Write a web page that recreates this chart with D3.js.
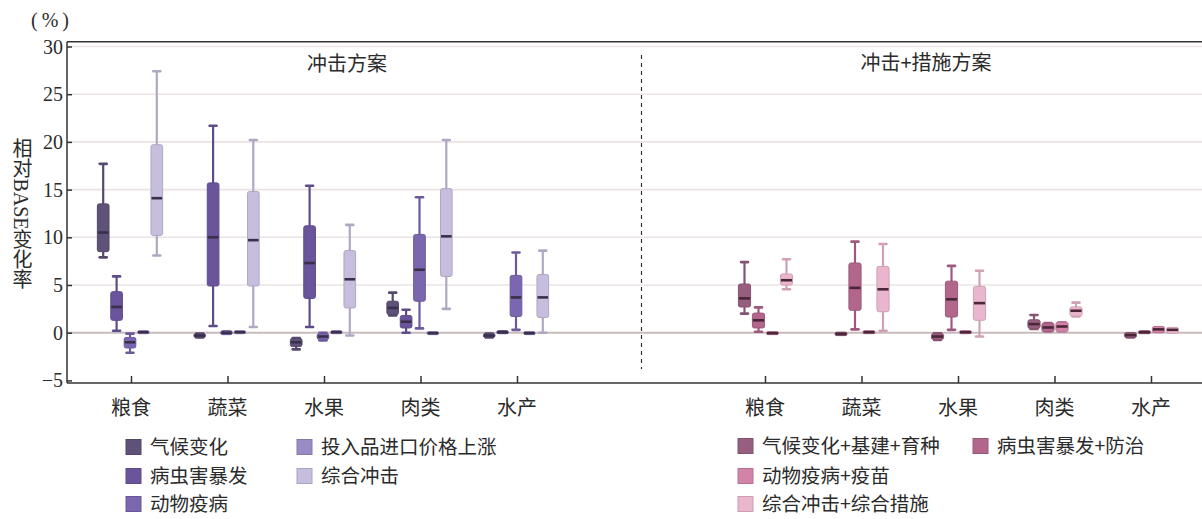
<!DOCTYPE html>
<html>
<head>
<meta charset="utf-8">
<script src="https://cdn.jsdelivr.net/npm/d3@7"></script>
<style>
  html, body { margin: 0; padding: 0; background: #fff; }
  svg { display: block; }
  .cjk { font-family: "Noto Sans CJK SC", sans-serif; fill: #2b2b2b; }
  .num { font-family: "Liberation Serif", "Times New Roman", serif; fill: #2b2b2b; }
</style>
</head>
<body>
<svg id="chart" width="1202" height="519"></svg>
<script>
// Food categories along the x axis (same in both panels)
const categories = ["粮食", "蔬菜", "水果", "肉类", "水产"];

// Series names of the two scenario groups
const shockSeries = ["气候变化", "病虫害暴发", "动物疫病", "投入品进口价格上涨", "综合冲击"];
const measureSeries = ["气候变化+基建+育种", "病虫害暴发+防治", "动物疫病+疫苗", "综合冲击+综合措施"];

// Five-number summaries [min, q1, median, q3, max] per category, % change vs BASE
const shockClimate  = [[7.9, 8.6, 10.5, 13.4, 17.7], [-0.5, -0.4, -0.3, -0.2, -0.1], [-1.75, -1.35, -1.0, -0.7, -0.55], [1.8, 2.0, 2.6, 3.2, 4.2], [-0.5, -0.4, -0.3, -0.2, -0.1]];
const shockPest     = [[0.2, 1.4, 2.7, 4.2, 5.9], [0.7, 5.0, 10.0, 15.6, 21.7], [0.6, 3.7, 7.3, 11.1, 15.4], [0.0, 0.6, 1.15, 1.7, 2.4], [0.0, 0.0, 0.05, 0.1, 0.1]];
const shockAnimal   = [[-2.1, -1.5, -1.0, -0.6, -0.1], [-0.1, -0.1, 0.0, 0.1, 0.1], [-0.8, -0.6, -0.4, -0.2, 0.0], [0.45, 3.4, 6.6, 10.2, 14.2], [0.3, 1.8, 3.7, 5.9, 8.4]];
const shockInput    = [[0.0, 0.0, 0.05, 0.1, 0.1], [0.0, 0.0, 0.05, 0.1, 0.1], [0.0, 0.0, 0.05, 0.1, 0.1], [-0.1, -0.1, -0.05, 0.0, 0.0], [-0.1, -0.1, -0.05, 0.0, 0.0]];
const shockCombined = [[8.1, 10.3, 14.1, 19.6, 27.4], [0.6, 5.0, 9.7, 14.7, 20.2], [-0.3, 2.7, 5.6, 8.5, 11.3], [2.5, 6.0, 10.1, 15.0, 20.2], [0.0, 1.7, 3.7, 6.0, 8.6]];

const measureClimate  = [[2.0, 2.8, 3.6, 5.0, 7.4], [-0.2, -0.2, -0.12, -0.05, -0.05], [-0.75, -0.6, -0.4, -0.2, -0.05], [0.4, 0.55, 0.9, 1.25, 1.85], [-0.5, -0.4, -0.25, -0.1, -0.1]];
const measurePest     = [[0.1, 0.6, 1.3, 1.95, 2.65], [0.35, 2.45, 4.7, 7.2, 9.55], [0.3, 1.75, 3.5, 5.3, 7.0], [0.15, 0.2, 0.55, 0.9, 1.0], [0.0, 0.0, 0.05, 0.1, 0.1]];
const measureAnimal   = [[-0.1, -0.1, -0.05, 0.0, 0.0], [0.0, 0.0, 0.05, 0.1, 0.1], [0.0, 0.0, 0.05, 0.1, 0.1], [0.15, 0.2, 0.65, 1.0, 1.1], [0.1, 0.1, 0.35, 0.55, 0.55]];
const measureCombined = [[4.55, 5.1, 5.5, 6.05, 7.7], [0.2, 2.3, 4.55, 6.85, 9.3], [-0.4, 1.4, 3.1, 4.75, 6.5], [1.7, 1.85, 2.3, 2.6, 3.15], [0.05, 0.05, 0.3, 0.45, 0.45]];

// Y axis ticks
const yTicks = [-5, 0, 5, 10, 15, 20, 25, 30];

// Colours
const shockColors   = ["#5f5279", "#6a559c", "#7b66b0", "#9b8bc5", "#c7bddd"];
const measureColors = ["#975f7f", "#b2668c", "#d283a8", "#eab6ce"];

const svg = d3.select("#chart");

const left = 67, right = 1202;
const y = d3.scaleLinear().domain([-5, 30]).range([380.4, 46.5]);
const axisBottomY = y(-5) + 2.6;
const axisTopY = y(30) - 4.8;

// Panel x scales
const xShock = d3.scalePoint().domain(categories).range([131, 517]);
const xMeasure = d3.scalePoint().domain(categories).range([765, 1151]);
const subShock = d3.scaleBand().domain(shockSeries).range([-34.5, 32.5]).paddingInner(0.13).paddingOuter(0.065);
const subMeasure = d3.scaleBand().domain(measureSeries).range([-27.5, 28.5]).paddingInner(0.13).paddingOuter(0.065);

// Grid lines
const grid = svg.append("g");
grid.selectAll("line.grid")
  .data(yTicks.filter(t => t > -5 && t !== 0))
  .join("line")
  .attr("x1", left).attr("x2", right)
  .attr("y1", d => y(d)).attr("y2", d => y(d))
  .attr("stroke", "#ebe3e3").attr("stroke-width", 1.6);

// Zero reference line
grid.append("line")
  .attr("x1", left).attr("x2", right)
  .attr("y1", y(0)).attr("y2", y(0))
  .attr("stroke", "#c9bbbb").attr("stroke-width", 2);

// Frame: top line, left axis, bottom axis
const frame = svg.append("g").attr("stroke", "#333").attr("stroke-width", 1.5);
frame.append("line").attr("x1", left).attr("x2", right).attr("y1", axisTopY).attr("y2", axisTopY);
frame.append("line").attr("x1", left).attr("x2", left).attr("y1", axisTopY).attr("y2", axisBottomY);
frame.append("line").attr("x1", left).attr("x2", right).attr("y1", axisBottomY).attr("y2", axisBottomY);

// Y axis ticks (pointing inward) and labels
const yAxis = svg.append("g").attr("transform", `translate(${left},0)`)
  .call(d3.axisRight(y).tickValues(yTicks).tickSize(5).tickFormat(""));
yAxis.select(".domain").remove();
yAxis.selectAll(".tick line").attr("stroke", "#333").attr("stroke-width", 1.5);
svg.append("g").selectAll("text")
  .data(yTicks)
  .join("text")
  .attr("class", "num")
  .attr("x", left - 4)
  .attr("y", d => y(d))
  .attr("dy", "0.35em")
  .attr("text-anchor", "end")
  .attr("font-size", 20)
  .text(d => d < 0 ? "\u2212" + Math.abs(d) : d);

// X axes for both panels: ticks pointing up, labels below
function drawXAxis(scale) {
  const g = svg.append("g").attr("transform", `translate(0,${axisBottomY})`)
    .call(d3.axisTop(scale).tickSize(7).tickFormat(""));
  g.select(".domain").remove();
  g.selectAll(".tick line").attr("stroke", "#333").attr("stroke-width", 1.5);
  svg.append("g").selectAll("text")
    .data(categories)
    .join("text")
    .attr("class", "cjk")
    .attr("x", d => scale(d))
    .attr("y", 415)
    .attr("text-anchor", "middle")
    .attr("font-size", 20)
    .text(d => d);
}
drawXAxis(xShock);
drawXAxis(xMeasure);

// Panel divider
svg.append("line")
  .attr("x1", 641.5).attr("x2", 641.5)
  .attr("y1", 55).attr("y2", 369)
  .attr("stroke", "#333").attr("stroke-width", 1.2)
  .attr("stroke-dasharray", "4,4");

// Panel titles
svg.append("text").attr("class", "cjk").attr("x", 347).attr("y", 71)
  .attr("text-anchor", "middle").attr("font-size", 20).text("冲击方案");
svg.append("text").attr("class", "cjk").attr("x", 926).attr("y", 70)
  .attr("text-anchor", "middle").attr("font-size", 20).text("冲击+措施方案");

// Unit and y axis title
svg.append("text").attr("class", "num").attr("x", 31).attr("y", 27)
  .attr("font-size", 20).attr("letter-spacing", 4).text("(%)");
svg.append("text")
  .attr("x", 21).attr("y", 214)
  .attr("text-anchor", "middle")
  .style("writing-mode", "vertical-rl")
  .style("text-orientation", "mixed")
  .style("font-family", "'Liberation Serif', 'Noto Sans CJK SC', serif")
  .attr("font-size", 20)
  .attr("fill", "#2b2b2b")
  .text("相对BASE变化率");

// Box plots
function drawBoxes(xScale, sub, seriesNames, seriesData, colors, medianColor) {
  const bw = sub.bandwidth();
  seriesNames.forEach((name, si) => {
    const fill = colors[si];
    const edge = d3.color(fill).darker(0.35).formatHex();
    const g = svg.append("g");
    const rows = seriesData[si].map((s, ci) => ({ cat: categories[ci], s }));
    const cx = d => xScale(d.cat) + sub(name) + bw / 2;
    // whiskers
    g.selectAll("line.whisker")
      .data(rows).join("line")
      .attr("x1", cx).attr("x2", cx)
      .attr("y1", d => y(d.s[4])).attr("y2", d => y(d.s[0]))
      .attr("stroke", edge).attr("stroke-width", 2.2);
    // caps
    [0, 4].forEach(k => {
      g.selectAll("line.cap" + k)
        .data(rows).join("line")
        .attr("x1", d => cx(d) - 3.5).attr("x2", d => cx(d) + 3.5)
        .attr("y1", d => y(d.s[k])).attr("y2", d => y(d.s[k]))
        .attr("stroke", edge).attr("stroke-width", 2.6)
        .attr("stroke-linecap", "round");
    });
    // boxes
    g.selectAll("rect")
      .data(rows).join("rect")
      .attr("x", d => cx(d) - bw / 2)
      .attr("width", bw)
      .attr("y", d => y(d.s[3]) - 1)
      .attr("height", d => Math.max(2, y(d.s[1]) - y(d.s[3]) + 2))
      .attr("rx", 2).attr("ry", 2)
      .attr("fill", fill)
      .attr("stroke", edge).attr("stroke-width", 1);
    // medians
    g.selectAll("line.median")
      .data(rows).join("line")
      .attr("x1", d => cx(d) - bw / 2 + 0.5).attr("x2", d => cx(d) + bw / 2 - 0.5)
      .attr("y1", d => y(d.s[2])).attr("y2", d => y(d.s[2]))
      .attr("stroke", medianColor).attr("stroke-width", 2.6);
  });
}
drawBoxes(xShock, subShock, shockSeries,
  [shockClimate, shockPest, shockAnimal, shockInput, shockCombined], shockColors, "#3a3049");
drawBoxes(xMeasure, subMeasure, measureSeries,
  [measureClimate, measurePest, measureAnimal, measureCombined], measureColors, "#4a2639");

// Legends
function drawLegend(items, colors, positions) {
  const g = svg.append("g");
  items.forEach((name, i) => {
    const [lx, ly] = positions[i];
    g.append("rect")
      .attr("x", lx).attr("y", ly - 7.5)
      .attr("width", 15).attr("height", 15)
      .attr("fill", colors[i])
      .attr("stroke", d3.color(colors[i]).darker(0.4).formatHex())
      .attr("stroke-width", 1);
    g.append("text")
      .attr("class", "cjk")
      .attr("x", lx + 24).attr("y", ly)
      .attr("dy", "0.36em")
      .attr("font-size", 19.5)
      .text(name);
  });
}
drawLegend(shockSeries, shockColors,
  [[126, 447], [126, 476], [126, 504], [297, 447], [297, 476]]);
drawLegend(measureSeries, measureColors,
  [[738, 446], [973, 446], [738, 476], [738, 504]]);
</script>
</body>
</html>
